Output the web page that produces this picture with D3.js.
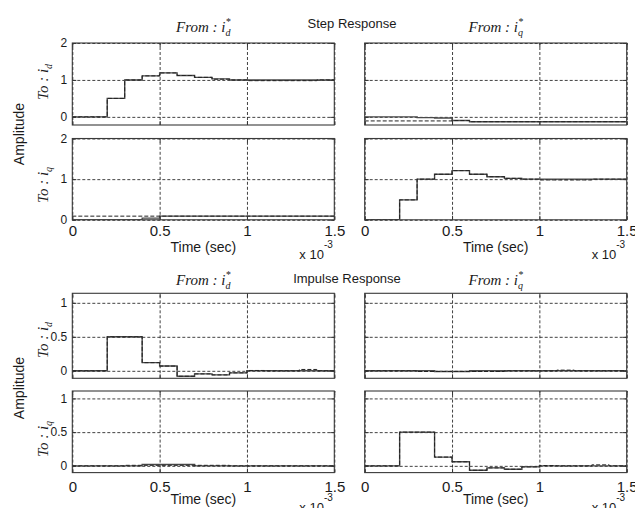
<!DOCTYPE html>
<html>
<head>
<meta charset="utf-8">
<script src="https://cdn.jsdelivr.net/npm/d3@7"></script>
<style>
	body { margin: 0; background: #fff; }
	svg { display: block; font-family: 'Liberation Sans', Arial, sans-serif; fill: #1a1a1a; }
	.grid line { stroke: #111; stroke-width: 0.8; stroke-dasharray: 3, 2; }
	.inner-ticks line { stroke: #333; stroke-width: 1; }
	.math { font-family: 'Liberation Serif', 'Times New Roman', serif; font-style: italic; }
</style>
</head>
<body>
<svg width="635" height="508"></svg>
<script>
// sample instants, in units of 1e-3 s (Ts = 0.1 ms)
const sampleTimes = [0, 0.1, 0.2, 0.3, 0.4, 0.5, 0.6, 0.7, 0.8, 0.9, 1.0, 1.1, 1.2, 1.3, 1.4, 1.5];
const timeTicks = [0, 0.5, 1, 1.5];
const stepYTicks = [0, 1, 2];
const impulseYTicks = [0, 0.5, 1];
const inputNames = ['d', 'q'];
const outputNames = ['d', 'q'];

// step response (solid) and second trace (dashed)
const stepIdToId = [0, 0, 0.5, 1.0, 1.11, 1.19, 1.12, 1.07, 1.03, 1.0, 1.0, 1.0, 1.0, 1.0, 1.0, 1.0];
const stepIdToIdRef = [0, 0, 0.5, 1.0, 1.11, 1.19, 1.12, 1.07, 1.02, 1.0, 0.98, 0.98, 0.98, 0.98, 1.0, 1.0];
const stepIqToId = [0, 0, 0, -0.02, -0.03, -0.1, -0.13, -0.13, -0.13, -0.13, -0.13, -0.13, -0.13, -0.13, -0.13, -0.13];
const stepIqToIdRef = [-0.11, -0.11, -0.11, -0.11, -0.11, -0.1, -0.13, -0.13, -0.13, -0.13, -0.13, -0.13, -0.13, -0.13, -0.13, -0.13];
const stepIdToIq = [0, 0, 0, 0, 0.04, 0.09, 0.09, 0.09, 0.09, 0.09, 0.09, 0.09, 0.09, 0.09, 0.09, 0.09];
const stepIdToIqRef = [0.09, 0.09, 0.09, 0.09, 0.09, 0.09, 0.09, 0.09, 0.09, 0.09, 0.09, 0.09, 0.09, 0.09, 0.09, 0.09];
const stepIqToIq = [0, 0, 0.49, 1.0, 1.12, 1.21, 1.12, 1.06, 1.02, 1.0, 1.0, 1.0, 1.0, 1.0, 1.0, 1.0];
const stepIqToIqRef = [0, 0, 0.49, 1.0, 1.12, 1.21, 1.12, 1.06, 1.02, 1.0, 0.98, 0.98, 0.98, 1.0, 1.0, 1.0];

// impulse response (solid) and second trace (dashed)
const impulseIdToId = [0, 0, 0.5, 0.5, 0.12, 0.07, -0.08, -0.045, -0.06, -0.03, 0, 0, 0, 0, 0, 0];
const impulseIdToIdRef = [0, 0, 0.5, 0.5, 0.12, 0.07, -0.08, -0.045, -0.06, -0.03, 0.005, 0, 0, 0.02, 0, 0];
const impulseIqToId = [0, 0, 0, 0, -0.01, -0.01, 0, 0, 0, 0, 0, 0, 0, 0, 0, 0];
const impulseIqToIdRef = [0, 0, 0, -0.01, -0.01, -0.01, -0.01, -0.01, 0, 0, 0, 0.01, 0, 0, 0, 0];
const impulseIdToIq = [0, 0, 0, 0, 0.02, 0.02, 0.02, 0, 0, 0, 0, 0, 0, 0, 0, 0];
const impulseIdToIqRef = [0, 0, 0, 0.008, 0.008, 0.008, 0.008, 0.008, 0.008, 0, 0, 0, 0, 0, 0, 0];
const impulseIqToIq = [0, 0, 0.5, 0.5, 0.13, 0.06, -0.065, -0.03, -0.05, -0.015, 0, 0, 0, 0, 0, 0];
const impulseIqToIqRef = [0, 0, 0.5, 0.5, 0.13, 0.06, -0.065, -0.03, -0.05, -0.015, 0.005, 0, 0, 0.015, 0, 0];

const panelData = [
	[[stepIdToId, stepIdToIdRef], [stepIqToId, stepIqToIdRef]],
	[[stepIdToIq, stepIdToIqRef], [stepIqToIq, stepIqToIqRef]],
	[[impulseIdToId, impulseIdToIdRef], [impulseIqToId, impulseIqToIdRef]],
	[[impulseIdToIq, impulseIdToIqRef], [impulseIqToIq, impulseIqToIqRef]]
];

const cols = [
	{ x0: 72.3, x1: 334.3 },
	{ x0: 364.7, x1: 626.7 }
];
const rows = [
	{ top: 43, bottom: 125, domain: [-0.22, 2], ticks: stepYTicks, out: 0, labelY: 82 },
	{ top: 138.5, bottom: 219.8, domain: [0, 2], ticks: stepYTicks, out: 1, labelY: 185, xLabels: true, xPad: 5.5, timeY: 251.5, expY: 259 },
	{ top: 293.3, bottom: 378.3, domain: [-0.11, 1.14], ticks: impulseYTicks, out: 0, labelY: 340 },
	{ top: 391, bottom: 472.6, domain: [-0.1, 1.11], ticks: impulseYTicks, out: 1, labelY: 439, xLabels: true, xPad: 9, timeY: 504, expY: 512 }
];

const svg = d3.select('svg');

function signalLabel(sel, prefix, sub, star) {
	sel.append('tspan').text(prefix + 'i');
	sel.append('tspan').attr('font-size', 10).attr('dy', 4).text(sub);
	if (star) sel.append('tspan').attr('font-size', 10).attr('dx', -5).attr('dy', -11).text('*');
}

rows.forEach((row, r) => {
	const y = d3.scaleLinear().domain(row.domain).range([row.bottom, row.top]);

	cols.forEach((col, c) => {
		const x = d3.scaleLinear().domain([0, 1.5]).range([col.x0, col.x1]);
		const w = col.x1 - col.x0;
		const h = row.bottom - row.top;
		const g = svg.append('g');
		const clipId = `clip-${r}-${c}`;

		g.append('clipPath')
			.attr('id', clipId)
			.append('rect')
			.attr('x', col.x0)
			.attr('y', row.top)
			.attr('width', w)
			.attr('height', h);

		// dashed grid
		g.append('g')
			.attr('class', 'grid')
			.attr('transform', `translate(0,${row.bottom})`)
			.call(d3.axisBottom(x).tickValues(timeTicks).tickSize(-h).tickSizeOuter(0).tickFormat(''))
			.call(s => s.select('.domain').remove());

		g.append('g')
			.attr('class', 'grid')
			.attr('transform', `translate(${col.x0},0)`)
			.call(d3.axisLeft(y).tickValues(row.ticks).tickSize(-w).tickSizeOuter(0).tickFormat(''))
			.call(s => s.select('.domain').remove());

		const line = d3.line()
			.x((d, i) => x(sampleTimes[i]))
			.y(d => y(d))
			.curve(d3.curveStepAfter);

		const [solid, dashed] = panelData[r][c];

		g.append('path')
			.datum(solid)
			.attr('clip-path', `url(#${clipId})`)
			.attr('fill', 'none')
			.attr('stroke', '#4a4a4a')
			.attr('stroke-width', 1.4)
			.attr('d', line);

		g.append('path')
			.datum(dashed)
			.attr('clip-path', `url(#${clipId})`)
			.attr('fill', 'none')
			.attr('stroke', '#222')
			.attr('stroke-width', 1)
			.attr('stroke-dasharray', '4,2')
			.attr('d', line);

		// inner tick marks on all four sides
		const tickLen = 4;
		[
			[d3.axisBottom(x).tickValues(timeTicks), `translate(0,${row.bottom})`],
			[d3.axisTop(x).tickValues(timeTicks), `translate(0,${row.top})`],
			[d3.axisLeft(y).tickValues(row.ticks), `translate(${col.x0},0)`],
			[d3.axisRight(y).tickValues(row.ticks), `translate(${col.x1},0)`]
		].forEach(([axis, tr]) => {
			g.append('g')
				.attr('class', 'inner-ticks')
				.attr('transform', tr)
				.call(axis.tickSize(-tickLen).tickSizeOuter(0).tickFormat(''))
				.call(s => s.select('.domain').remove());
		});

		g.append('rect')
			.attr('x', col.x0)
			.attr('y', row.top)
			.attr('width', w)
			.attr('height', h)
			.attr('fill', 'none')
			.attr('stroke', '#3a3a3a')
			.attr('stroke-width', 1.1);

		// y tick labels only on the left column
		if (c === 0) {
			g.append('g')
				.attr('transform', `translate(${col.x0},0)`)
				.call(d3.axisLeft(y).tickValues(row.ticks).tickSize(0).tickPadding(5).tickFormat(d => String(d)))
				.call(s => s.select('.domain').remove())
				.call(s => s.selectAll('text').attr('font-size', 12).attr('font-family', 'Liberation Sans, Arial, sans-serif').attr('fill', '#1a1a1a'));

			const lab = svg.append('text')
				.attr('class', 'math')
				.attr('font-size', 15)
				.attr('text-anchor', 'middle')
				.attr('transform', `translate(48,${row.labelY}) rotate(-90)`);
			signalLabel(lab, 'To : ', outputNames[row.out], false);
		}

		if (row.xLabels) {
			g.append('g')
				.attr('transform', `translate(0,${row.bottom})`)
				.call(d3.axisBottom(x).tickValues(timeTicks).tickSize(0).tickPadding(row.xPad).tickFormat(d => String(d)))
				.call(s => s.select('.domain').remove())
				.call(s => s.selectAll('text').attr('font-size', 15).attr('font-family', 'Liberation Sans, Arial, sans-serif').attr('fill', '#1a1a1a'));

			svg.append('text')
				.attr('x', (col.x0 + col.x1) / 2)
				.attr('y', row.timeY)
				.attr('text-anchor', 'middle')
				.attr('font-size', 14)
				.text('Time (sec)');

			const exp = svg.append('text')
				.attr('x', col.x1 - 35)
				.attr('y', row.expY)
				.attr('font-size', 13)
				.text('x 10');
			exp.append('tspan')
				.attr('font-size', 10)
				.attr('dy', -11)
				.text('-3');
		}
	});
});

// column headers
[[31.5, 0], [284.5, 2]].forEach(([yPos]) => {
	cols.forEach((col, c) => {
		const t = svg.append('text')
			.attr('class', 'math')
			.attr('font-size', 15)
			.attr('text-anchor', 'middle')
			.attr('x', (col.x0 + col.x1) / 2)
			.attr('y', yPos);
		signalLabel(t, 'From : ', inputNames[c], true);
	});
});

svg.append('text')
	.attr('x', 352)
	.attr('y', 28)
	.attr('text-anchor', 'middle')
	.attr('font-size', 13)
	.text('Step Response');

svg.append('text')
	.attr('x', 347)
	.attr('y', 283)
	.attr('text-anchor', 'middle')
	.attr('font-size', 13)
	.text('Impulse Response');

[134, 388].forEach(yc => {
	svg.append('text')
		.attr('transform', `translate(24,${yc}) rotate(-90)`)
		.attr('text-anchor', 'middle')
		.attr('font-size', 14)
		.text('Amplitude');
});
</script>
</body>
</html>
